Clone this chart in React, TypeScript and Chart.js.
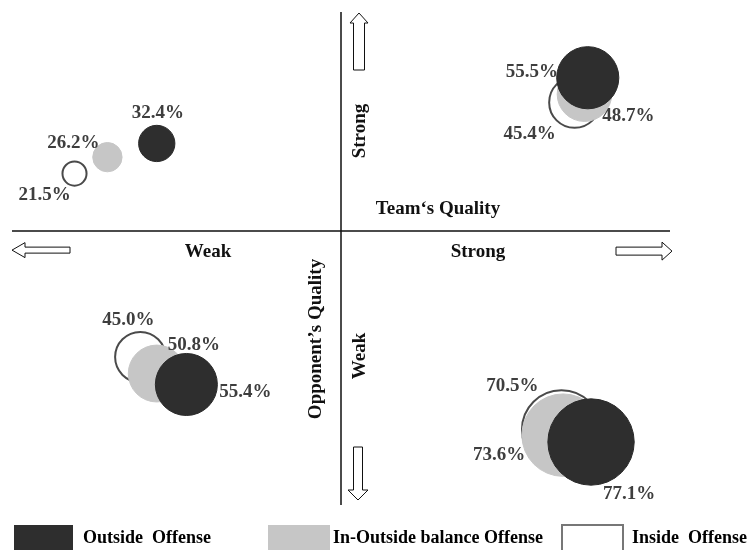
import { useEffect, useRef } from "react";
import { Chart, registerables } from "chart.js";

Chart.register(...registerables);

// quadrants: weak/strong team (x) against strong/weak opponent (y)
const quadrants = ["weak team, strong opp.", "strong team, strong opp.", "weak team, weak opp.", "strong team, weak opp."];

const seriesNames = ["Outside  Offense", "In-Outside balance Offense", "Inside  Offense"];

// share in percent
const outsideValues = [32.4, 55.5, 55.4, 77.1];
const inOutsideValues = [26.2, 48.7, 50.8, 73.6];
const insideValues = [21.5, 45.4, 45.0, 70.5];

// team quality (x) and opponent quality (y) positions, -10..10
const outsideX = [-5.6, 7.5, -4.7, 7.6];
const outsideY = [3.2, 5.6, -5.6, -7.7];
const inOutsideX = [-7.1, 7.4, -5.6, 6.75];
const inOutsideY = [2.7, 5.0, -5.2, -7.45];
const insideX = [-8.1, 7.1, -6.1, 6.7];
const insideY = [2.1, 4.7, -4.6, -7.25];

// label offsets from bubble centre, px
const labelOffsets = [
  [[1, -30], [-56, -6], [59, 8], [38, 52]],
  [[-34, -14], [44, 22], [37, -28], [-64, 20]],
  [[-30, 21], [-45, 32], [-12, -37], [-49, -44]],
];

const RADIUS_PER_PERCENT = 0.56;
const FONT = '"Liberation Serif", "DejaVu Serif", serif';

const toPoints = (xs: number[], ys: number[], values: number[]) =>
  values.map((v, i) => ({ x: xs[i], y: ys[i], r: v * RADIUS_PER_PERCENT }));

const hollowArrow = (
  ctx: CanvasRenderingContext2D,
  tipX: number,
  tipY: number,
  angle: number,
  len: number,
  head: number,
  shaftHalf: number,
  headHalf: number,
) => {
  ctx.save();
  ctx.translate(tipX, tipY);
  ctx.rotate(angle);
  ctx.beginPath();
  ctx.moveTo(0, 0);
  ctx.lineTo(-head, -headHalf);
  ctx.lineTo(-head, -shaftHalf);
  ctx.lineTo(-len, -shaftHalf);
  ctx.lineTo(-len, shaftHalf);
  ctx.lineTo(-head, shaftHalf);
  ctx.lineTo(-head, headHalf);
  ctx.closePath();
  ctx.fillStyle = "#fff";
  ctx.fill();
  ctx.strokeStyle = "#111";
  ctx.lineWidth = 1;
  ctx.stroke();
  ctx.restore();
};

const quadrantPlugin = {
  id: "quadrantDecor",
  afterDraw(chart: Chart) {
    const { ctx, chartArea, scales } = chart;
    const x0 = scales.x.getPixelForValue(0);
    const y0 = scales.y.getPixelForValue(0);

    ctx.save();
    // axes
    ctx.strokeStyle = "#111";
    ctx.lineWidth = 1.5;
    ctx.beginPath();
    ctx.moveTo(chartArea.left, y0);
    ctx.lineTo(chartArea.right, y0);
    ctx.moveTo(x0, chartArea.top);
    ctx.lineTo(x0, chartArea.bottom);
    ctx.stroke();

    hollowArrow(ctx, chartArea.left, y0 + 19, Math.PI, 58, 13, 3, 7.5);
    hollowArrow(ctx, chartArea.right + 2, y0 + 20, 0, 56, 10, 4, 9);
    hollowArrow(ctx, x0 + 18, chartArea.top + 1, -Math.PI / 2, 57, 10, 5.5, 9);
    hollowArrow(ctx, x0 + 17, chartArea.bottom - 5, Math.PI / 2, 53, 10, 4.5, 10);

    // axis texts
    ctx.fillStyle = "#111";
    ctx.font = `bold 19px ${FONT}`;
    ctx.textAlign = "center";
    ctx.textBaseline = "middle";
    ctx.fillText("Weak", x0 - 133, y0 + 21);
    ctx.fillText("Strong", x0 + 137, y0 + 21);
    ctx.fillText("Team‘s Quality", x0 + 97, y0 - 22);

    const vText = (t: string, x: number, y: number) => {
      ctx.save();
      ctx.translate(x, y);
      ctx.rotate(-Math.PI / 2);
      ctx.fillText(t, 0, 0);
      ctx.restore();
    };
    vText("Strong", x0 + 19, 131);
    vText("Opponent’s Quality", x0 - 25, 339);
    vText("Weak", x0 + 19, 356);

    // value labels
    ctx.fillStyle = "#3e3e3e";
    ctx.font = `bold 19px ${FONT}`;
    chart.data.datasets.forEach((ds, di) => {
      const meta = chart.getDatasetMeta(di);
      meta.data.forEach((el, i) => {
        const [dx, dy] = labelOffsets[di][i];
        const v = (ds as any).values[i] as number;
        ctx.fillText(`${v.toFixed(1)}%`, el.x + dx, el.y + dy);
      });
    });

    // legend
    const legendItems = [
      { box: 14, w: 59, text: 83 },
      { box: 268, w: 62, text: 333 },
      { box: 562, w: 61, text: 632 },
    ];
    ctx.font = `bold 18px ${FONT}`;
    ctx.textAlign = "left";
    chart.data.datasets.forEach((ds: any, di) => {
      const it = legendItems[di];
      if (di === 2) {
        ctx.fillStyle = "#fff";
        ctx.fillRect(it.box, 525, it.w, 30);
        ctx.strokeStyle = "#777";
        ctx.lineWidth = 2;
        ctx.strokeRect(it.box, 525, it.w, 30);
      } else {
        ctx.fillStyle = ds.backgroundColor;
        ctx.fillRect(it.box, 525, it.w, 30);
      }
      ctx.fillStyle = "#000";
      ctx.fillText(seriesNames[di], it.text, 538);
    });
    ctx.restore();
  },
};

const App = () => {
  const canvasRef = useRef<HTMLCanvasElement>(null);

  useEffect(() => {
    document.body.style.margin = "0";
    if (!canvasRef.current) return;

    const chart = new Chart(canvasRef.current, {
      type: "bubble",
      data: {
        labels: quadrants,
        datasets: [
          {
            label: seriesNames[0],
            data: toPoints(outsideX, outsideY, outsideValues),
            values: outsideValues,
            backgroundColor: "#2e2e2e",
            borderColor: "#2a2a2a",
            borderWidth: 1,
          },
          {
            label: seriesNames[1],
            data: toPoints(inOutsideX, inOutsideY, inOutsideValues),
            values: inOutsideValues,
            backgroundColor: "#c6c6c6",
            borderColor: "#c6c6c6",
            borderWidth: 1,
          },
          {
            label: seriesNames[2],
            data: toPoints(insideX, insideY, insideValues),
            values: insideValues,
            backgroundColor: "#ffffff",
            borderColor: "#4a4a4a",
            borderWidth: 2,
          },
        ] as any,
      },
      options: {
        animation: false,
        responsive: false,
        layout: { autoPadding: false, padding: { left: 12, right: 78, top: 12, bottom: 45 } },
        clip: false as any,
        scales: {
          x: { display: false, min: -10, max: 10 },
          y: { display: false, min: -10, max: 8 },
        },
        plugins: {
          legend: { display: false },
          tooltip: { enabled: false },
        },
      },
      plugins: [quadrantPlugin],
    });

    return () => {
      chart.destroy();
    };
  }, []);

  return <canvas ref={canvasRef} width={748} height={550}></canvas>;
};

export default App;
